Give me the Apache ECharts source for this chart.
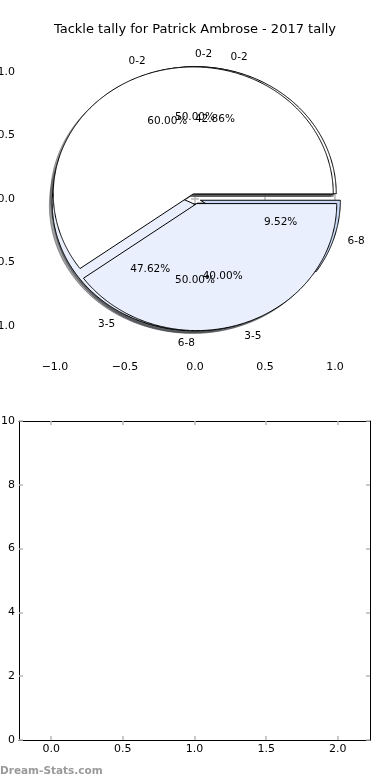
<!DOCTYPE html>
<html><head><meta charset="utf-8">
<script src="https://cdn.jsdelivr.net/npm/echarts@6/dist/echarts.min.js"></script>
<style>html,body{margin:0;padding:0;background:#fff}#c{width:390px;height:780px}</style>
</head><body><div id="c"></div>
<script>
const titleText = 'Tackle tally for Patrick Ambrose - 2017 tally';
const pieALabels = ['0-2', '3-5'];
const pieAValues = [60, 40];
const pieBLabels = ['0-2', '6-8'];
const pieBValues = [50, 50];
const pieCLabels = ['0-2', '3-5', '6-8'];
const pieCValues = [42.86, 47.62, 9.52];
const pieTicks = [-1, -0.5, 0, 0.5, 1];
const lowerXTicks = [0, 0.5, 1, 1.5, 2];
const lowerYTicks = [0, 2, 4, 6, 8, 10];
const watermark = 'Dream-Stats.com';

const colorMap = {'0-2': [255, 255, 255], '3-5': [233, 239, 252], '6-8': [201, 217, 245]};
const EXPLODE = 0.04, R = 1, LABEL_D = 1.1, PCT_D = 0.6, SH = -0.02;
const FONT = '"DejaVu Sans", sans-serif';

// drawing order: last one ends on top
const pies = [
  {labels: pieBLabels, values: pieBValues},
  {labels: pieCLabels, values: pieCValues},
  {labels: pieALabels, values: pieAValues}
];
const wedges = [];
pies.forEach(p => {
  const sum = p.values.reduce((a, b) => a + b, 0);
  let c = 0;
  p.values.forEach((v, i) => {
    const t1 = c / sum, t2 = (c + v) / sum; c += v;
    const tm = Math.PI * (t1 + t2);
    wedges.push({
      label: p.labels[i], pct: (100 * v / sum).toFixed(2) + '%',
      t1: t1, t2: t2, tm: tm,
      cx: EXPLODE * Math.cos(tm), cy: EXPLODE * Math.sin(tm),
      rgb: colorMap[p.labels[i]]
    });
  });
});

function wedgePoints(api, w, dx, dy) {
  const ox = w.cx + dx, oy = w.cy + dy;
  const pts = [api.coord([ox, oy])];
  const a1 = w.t1 * 2 * Math.PI, a2 = w.t2 * 2 * Math.PI;
  const n = Math.max(2, Math.ceil((a2 - a1) / (Math.PI / 360)));
  for (let k = 0; k <= n; k++) {
    const a = a1 + (a2 - a1) * k / n;
    pts.push(api.coord([ox + R * Math.cos(a), oy + R * Math.sin(a)]));
  }
  return pts;
}

const fmtPie = v => (v < 0 ? '\u2212' : '') + Math.abs(v).toFixed(1);
const tickStyle = {inside: true, length: 4, lineStyle: {color: '#b8b8b8', width: 1.5}};
const labelStyle = {color: '#000', fontSize: 11, fontFamily: FONT};
const PIE_FONT = '10.5px ' + FONT;

const chart = echarts.init(document.getElementById('c'), null, {renderer: 'canvas'});
chart.setOption({
  animation: false,
  backgroundColor: '#fff',
  grid: [
    {left: 20, right: 20, top: 40, height: 317.5, containLabel: false, outerBoundsMode: 'none'},
    {left: 19, right: 20, top: 421, bottom: 40, containLabel: false, outerBoundsMode: 'none'}
  ],
  xAxis: [
    {gridIndex: 0, type: 'value', min: -1.25, max: 1.25, position: 'bottom',
     axisLine: {show: false}, splitLine: {show: false},
     axisTick: Object.assign({customValues: pieTicks}, tickStyle),
     axisLabel: Object.assign({customValues: pieTicks, formatter: fmtPie, margin: 4}, labelStyle)},
    {gridIndex: 0, type: 'value', min: -1.25, max: 1.25, position: 'top',
     axisLine: {show: false}, splitLine: {show: false},
     axisTick: Object.assign({customValues: pieTicks}, tickStyle),
     axisLabel: {show: false}},
    {gridIndex: 1, type: 'value', min: -0.225, max: 2.225, position: 'bottom',
     axisLine: {show: true, onZero: false, lineStyle: {color: '#000', width: 1}}, splitLine: {show: false},
     axisTick: Object.assign({customValues: lowerXTicks}, tickStyle),
     axisLabel: Object.assign({customValues: lowerXTicks, formatter: v => v.toFixed(1), margin: 4}, labelStyle)},
    {gridIndex: 1, type: 'value', min: -0.225, max: 2.225, position: 'top',
     axisLine: {show: true, onZero: false, lineStyle: {color: '#000', width: 1}}, splitLine: {show: false},
     axisTick: Object.assign({customValues: lowerXTicks}, tickStyle),
     axisLabel: {show: false}}
  ],
  yAxis: [
    {gridIndex: 0, type: 'value', min: -1.25, max: 1.25, position: 'left',
     axisLine: {show: false}, splitLine: {show: false},
     axisTick: Object.assign({customValues: pieTicks}, tickStyle),
     axisLabel: Object.assign({customValues: pieTicks, formatter: fmtPie, margin: 5}, labelStyle)},
    {gridIndex: 0, type: 'value', min: -1.25, max: 1.25, position: 'right',
     axisLine: {show: false}, splitLine: {show: false},
     axisTick: Object.assign({customValues: pieTicks}, tickStyle),
     axisLabel: {show: false}},
    {gridIndex: 1, type: 'value', min: 0, max: 10, interval: 2, position: 'left',
     axisLine: {show: true, onZero: false, lineStyle: {color: '#000', width: 1}}, splitLine: {show: false},
     axisTick: Object.assign({customValues: lowerYTicks}, tickStyle),
     axisLabel: Object.assign({customValues: lowerYTicks, margin: 4}, labelStyle)},
    {gridIndex: 1, type: 'value', min: 0, max: 10, interval: 2, position: 'right',
     axisLine: {show: true, onZero: false, lineStyle: {color: '#000', width: 1}}, splitLine: {show: false},
     axisTick: Object.assign({customValues: lowerYTicks}, tickStyle),
     axisLabel: {show: false}}
  ],
  graphic: [
    {type: 'text', x: 195, y: 30, z: 100,
     style: {text: titleText, align: 'center', verticalAlign: 'middle', font: '13px ' + FONT, fill: '#000'}},
    {type: 'text', x: 0, y: 771, z: 100,
     style: {text: watermark, align: 'left', verticalAlign: 'middle', font: 'bold 10.5px ' + FONT, fill: '#9a9a9a'}}
  ],
  series: [
    {type: 'custom', name: 'shadows', xAxisIndex: 0, yAxisIndex: 0, clip: false, z: 1,
     data: wedges.map(() => [0, 0]),
     renderItem: (params, api) => {
       const w = wedges[params.dataIndex];
       const c = 'rgba(' + w.rgb.map(x => Math.round(x * 0.3)).join(',') + ',0.5)';
       return {type: 'polygon', shape: {points: wedgePoints(api, w, SH, SH)},
               style: {fill: c, stroke: c, lineWidth: 1}};
     }},
    {type: 'custom', name: 'wedges', xAxisIndex: 0, yAxisIndex: 0, clip: false, z: 2,
     data: wedges.map(() => [0, 0]),
     renderItem: (params, api) => {
       const w = wedges[params.dataIndex];
       return {type: 'polygon', shape: {points: wedgePoints(api, w, 0, 0)},
               style: {fill: 'rgb(' + w.rgb.join(',') + ')', stroke: '#000', lineWidth: 1}};
     }},
    {type: 'custom', name: 'labels', xAxisIndex: 0, yAxisIndex: 0, clip: false, z: 3,
     data: wedges.map(() => [0, 0]),
     renderItem: (params, api) => {
       const w = wedges[params.dataIndex];
       const xt = w.cx + LABEL_D * R * Math.cos(w.tm), yt = w.cy + LABEL_D * R * Math.sin(w.tm);
       const xp = w.cx + PCT_D * R * Math.cos(w.tm), yp = w.cy + PCT_D * R * Math.sin(w.tm);
       const pl = api.coord([xt, yt]), pp = api.coord([xp, yp]);
       return {type: 'group', children: [
         {type: 'text', style: {text: w.label, x: pl[0], y: pl[1], align: xt > 0 ? 'left' : 'right',
           verticalAlign: 'middle', font: PIE_FONT, fill: '#000'}},
         {type: 'text', style: {text: w.pct, x: pp[0], y: pp[1], align: 'center',
           verticalAlign: 'middle', font: PIE_FONT, fill: '#000'}}
       ]};
     }},
    {type: 'line', xAxisIndex: 2, yAxisIndex: 2, data: [], silent: true}
  ]
});
</script>
</body></html>
